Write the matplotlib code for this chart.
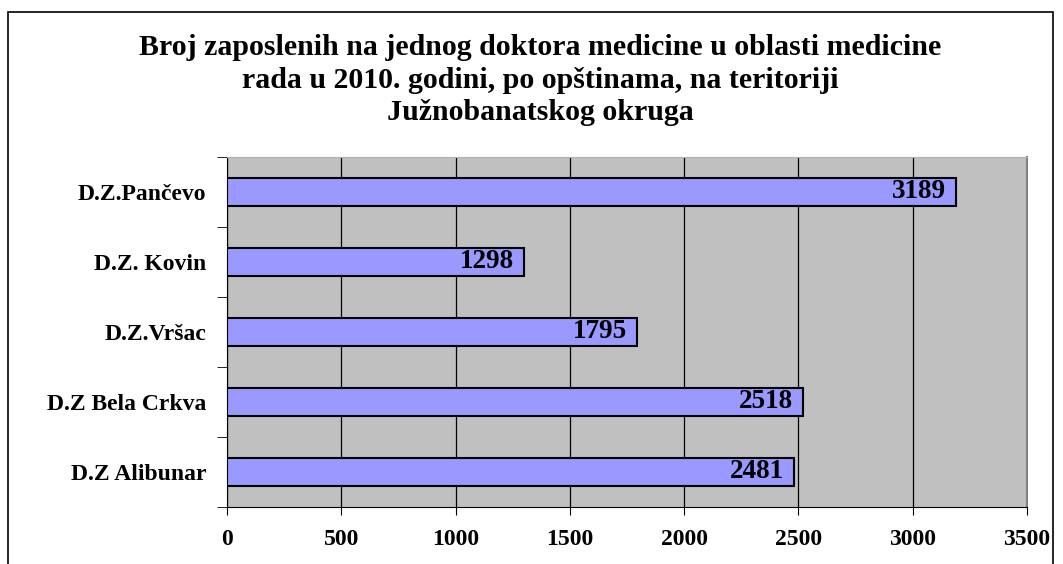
import matplotlib.pyplot as plt
from matplotlib.patches import Rectangle

# data (top to bottom as shown)
categories = ['D.Z.Pančevo', 'D.Z. Kovin', 'D.Z.Vršac', 'D.Z Bela Crkva', 'D.Z Alibunar']
values = [3189, 1298, 1795, 2518, 2481]
xticks = [0, 500, 1000, 1500, 2000, 2500, 3000, 3500]

plt.rcParams['font.family'] = ['Liberation Serif', 'DejaVu Serif']

fig = plt.figure(figsize=(10.63, 5.64), dpi=100)
W, H = 1063, 564
ax = fig.add_axes([227 / W, 1 - 507 / H, 800 / W, 350 / H])

# outer chart border
fig.patches.append(Rectangle((8 / W, -0.05), (1053 - 8) / W, 1.05 - 12 / H,
                             transform=fig.transFigure, fill=False,
                             edgecolor='black', linewidth=1.2))

ax.set_facecolor('#C0C0C0')
pos = list(range(len(categories)))[::-1]
ax.barh(pos, values, height=0.41, color='#9999FF', edgecolor='black',
        linewidth=1.5, zorder=3)

for p, v in zip(pos, values):
    ax.annotate(str(v), (v, p), xytext=(-7, 0), textcoords='offset points',
                ha='right', va='center', fontsize=19.5, fontweight='bold', zorder=4)

ax.set_xlim(0, 3500)
ax.set_ylim(-0.5, len(categories) - 0.5)
ax.set_xticks(xticks)
ax.set_xticklabels([str(t) for t in xticks], fontsize=17, fontweight='bold')
ax.tick_params(axis='x', length=6, pad=10)
ax.set_yticks(pos)
ax.set_yticklabels(categories, fontsize=17, fontweight='bold')
ax.set_yticks([i - 0.5 for i in range(len(categories) + 1)], minor=True)
ax.tick_params(axis='y', which='major', length=0, pad=15)
ax.tick_params(axis='y', which='minor', length=7)
ax.grid(axis='x', color='black', linewidth=0.9, zorder=1)

ax.spines['left'].set_color('black')
ax.spines['bottom'].set_color('black')
ax.spines['top'].set_color('#B0B0B0')
ax.spines['right'].set_color('#808080')
ax.spines['right'].set_linewidth(1.5)

fig.text(540 / W, 1 - 80 / H,
         'Broj zaposlenih na jednog doktora medicine u oblasti medicine\n'
         'rada u 2010. godini, po opštinama, na teritoriji\n'
         'Južnobanatskog okruga',
         ha='center', va='center', fontsize=21.5, fontweight='bold',
         linespacing=1.25)

fig.savefig('out.png', dpi=100)
